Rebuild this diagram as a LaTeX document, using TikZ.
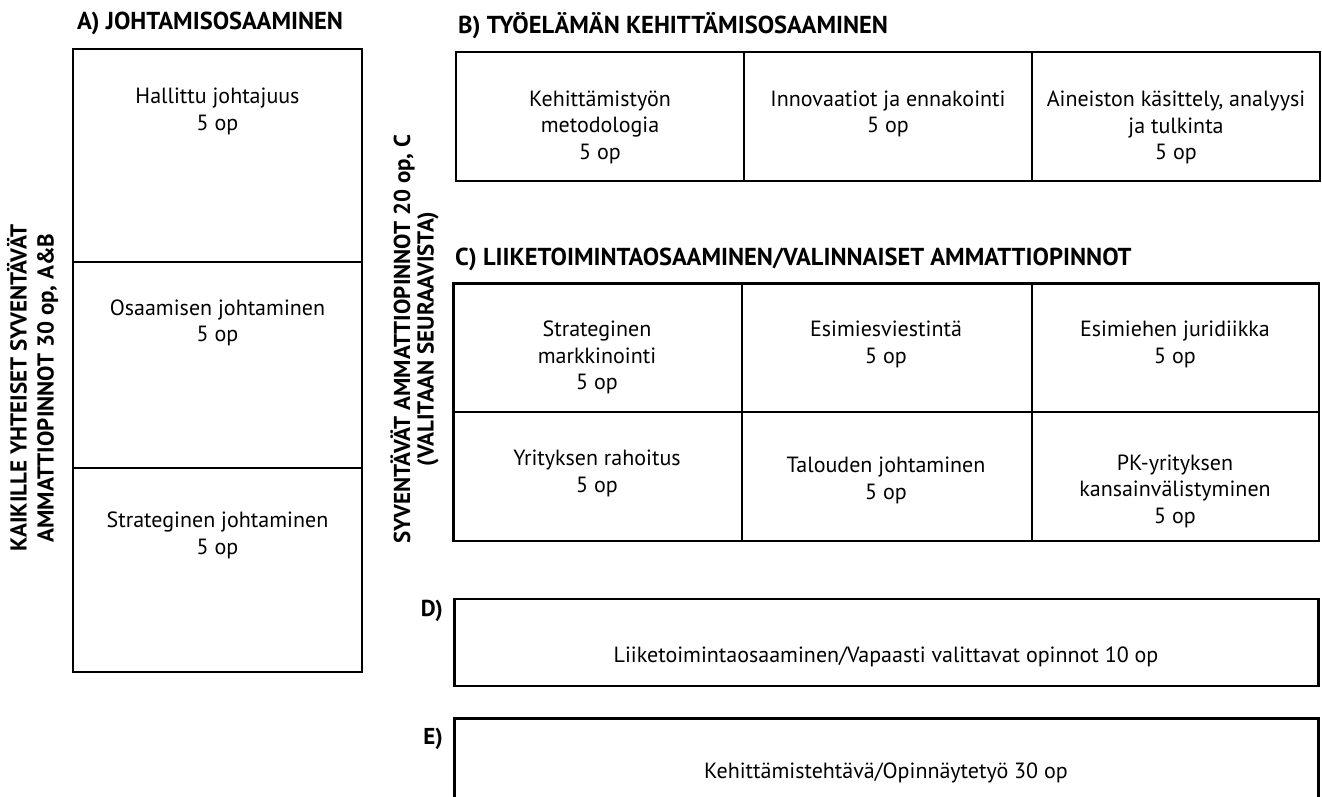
\documentclass[tikz,border=0pt]{standalone}
\usepackage{fontspec}
\setmainfont{PT Sans}
\begin{document}
\begin{tikzpicture}[x=1pt,y=-1pt,
  box/.style={draw=black, line width=2.4pt},
  div/.style={draw=black, line width=2pt},
  body/.style={font=\fontsize{22}{26.5}\selectfont, align=center, inner sep=0pt, anchor=north, text=black},
  oneline/.style={font=\fontsize{22}{26.5}\selectfont, inner sep=0pt, anchor=base, text=black},
  head/.style={font=\fontsize{24.5}{28}\selectfont\bfseries, inner sep=0pt, anchor=base west},
  headR/.style={font=\fontsize{23}{28}\selectfont\bfseries, inner sep=0pt, anchor=base east},
  sideA/.style={font=\fontsize{23}{27}\selectfont\bfseries, align=center, inner sep=0pt, rotate=90},
  sideB/.style={font=\fontsize{23}{23.5}\selectfont\bfseries, align=center, inner sep=0pt, rotate=90}]
\useasboundingbox (0,0) rectangle (1322,796);
\clip (0,0) rectangle (1322,796);

% A box
\draw[box] (73,49) rectangle (362,672);
\draw[div] (73,261.5) -- (362,261.5);
\draw[div] (73,468) -- (362,468);

% B box
\draw[box] (456,52) rectangle (1320,181);
\draw[div] (744,52) -- (744,181);
\draw[div] (1032,52) -- (1032,181);

% C box
\draw[box] (453.5,283.5) rectangle (1319,541);
\draw[div] (453.5,412) -- (1319,412);
\draw[div] (741.5,283.5) -- (741.5,541);
\draw[div] (1031.5,283.5) -- (1031.5,541);

% D and E boxes
\draw[box] (454.5,599) rectangle (1318.5,686);
\draw[box] (454.5,718.5) rectangle (1318.5,830);

% headings
\node[head] (hA) at (77,29.3) {A) JOHTAMISOSAAMINEN};
\node[head] (hB) at (458,33.3) {B) TYÖELÄMÄN KEHITTÄMISOSAAMINEN};
\node[head] (hC) at (455,265.7) {C) LIIKETOIMINTAOSAAMINEN/VALINNAISET AMMATTIOPINNOT};
\node[headR] (hD) at (443,616.7) {D)};
\node[headR] (hE) at (443,744.3) {E)};

% side labels
\node[sideA] (sA) at (32.5,388) {KAIKILLE YHTEISET SYVENTÄVÄT\\AMMATTIOPINNOT 30 op, A\&B};
\node[sideB] (sB) at (414.5,339) {SYVENTÄVÄT AMMATTIOPINNOT 20 op, C\\(VALITAAN SEURAAVISTA)};

% A cells
\node[body] (a1) at (217.5,87.8) {Hallittu johtajuus\\5 op};
\node[body] (a2) at (217.5,299.2) {Osaamisen johtaminen\\5 op};
\node[body] (a3) at (217.5,511.9) {Strateginen johtaminen\\5 op};

% B cells
\node[body] (b1) at (600,90.7) {Kehittämistyön\\metodologia\\5 op};
\node[body] (b2) at (888,90.7) {Innovaatiot ja ennakointi\\5 op};
\node[body] (b3) at (1176,90.7) {Aineiston käsittely, analyysi\\ja tulkinta\\5 op};

% C cells
\node[body] (c1) at (597,320.9) {Strateginen\\markkinointi\\5 op};
\node[body] (c2) at (886,320.9) {Esimiesviestintä\\5 op};
\node[body] (c3) at (1175,320.9) {Esimiehen juridiikka\\5 op};
\node[body] (c4) at (597,450.2) {Yrityksen rahoitus\\5 op};
\node[body] (c5) at (886,457) {Talouden johtaminen\\5 op};
\node[body] (c6) at (1175,454.7) {PK-yrityksen\\kansainvälistyminen\\5 op};

% D and E texts
\node[oneline] (d1) at (886,662) {Liiketoimintaosaaminen/Vapaasti valittavat opinnot 10 op};
\node[oneline] (e1) at (886,778) {Kehittämistehtävä/Opinnäytetyö 30 op};
\end{tikzpicture}
\end{document}
